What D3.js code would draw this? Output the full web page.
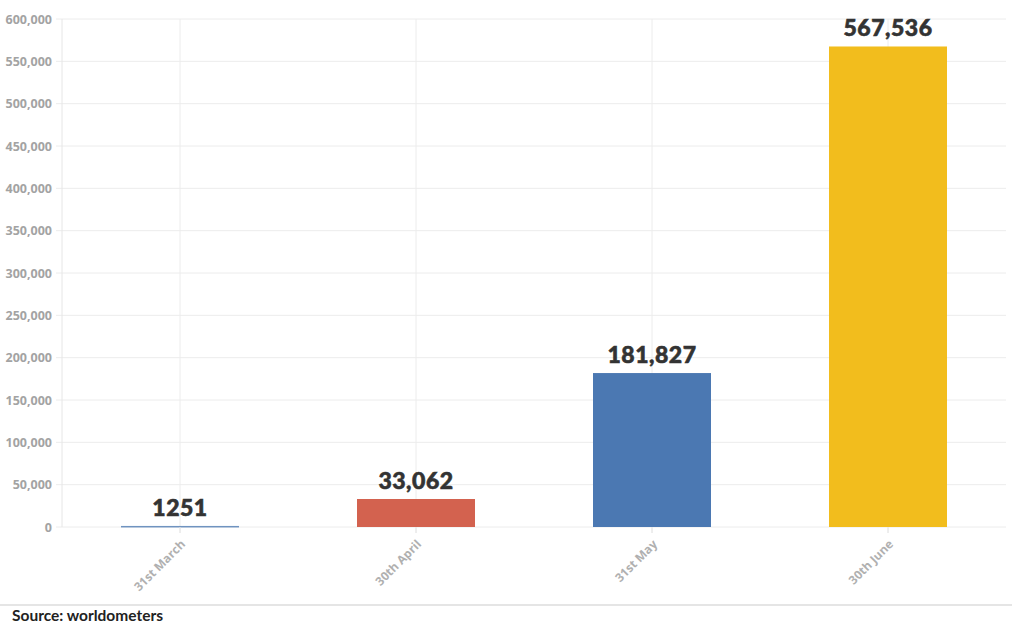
<!DOCTYPE html>
<html><head><meta charset="utf-8">
<script src="https://cdn.jsdelivr.net/npm/d3@7"></script>
<style>
html,body{margin:0;padding:0;background:#fff;}
svg{display:block;font-family:Lato,"Open Sans",sans-serif;}
</style></head>
<body>
<svg id="chart" width="1024" height="630"></svg>
<script>
const categories = ["31st March", "30th April", "31st May", "30th June"];
const values = [1251, 33062, 181827, 567536];
const valueLabels = ["1251", "33,062", "181,827", "567,536"];
const barColors = ["#6f93c0", "#d3624f", "#4b78b2", "#f2bd1d"];
const yTicks = [0, 50000, 100000, 150000, 200000, 250000, 300000, 350000, 400000, 450000, 500000, 550000, 600000];
const source = "Source: worldometers";

const svg = d3.select("#chart");
const mLeft = 62, mRight = 1006, mTop = 19, mBottom = 527;

const x = d3.scaleBand().domain(categories).range([mLeft, mRight]).paddingInner(0.5).paddingOuter(0.25);
const y = d3.scaleLinear().domain([0, 600000]).range([mBottom, mTop]);

// horizontal gridlines
svg.append("g").selectAll("line").data(yTicks).join("line")
  .attr("x1", mLeft - 6).attr("x2", mRight)
  .attr("y1", d => y(d)).attr("y2", d => y(d))
  .attr("stroke", "#ececec").attr("stroke-width", 1);

// vertical gridlines at category centers
svg.append("g").selectAll("line").data(categories).join("line")
  .attr("x1", d => x(d) + x.bandwidth() / 2).attr("x2", d => x(d) + x.bandwidth() / 2)
  .attr("y1", mTop).attr("y2", mBottom + 6)
  .attr("stroke", "#ececec").attr("stroke-width", 1);

// left axis line
svg.append("line").attr("x1", mLeft).attr("x2", mLeft).attr("y1", mTop).attr("y2", mBottom)
  .attr("stroke", "#e6e6e6");

// y axis labels
const yAxis = d3.axisLeft(y).tickValues(yTicks).tickSize(0).tickPadding(10)
  .tickFormat(d => d3.format(",")(d));
const ga = svg.append("g").attr("transform", `translate(${mLeft},0)`).call(yAxis);
ga.select(".domain").remove();
ga.selectAll("text").attr("fill", "#a3a3a3").attr("font-size", 12.5).attr("font-weight", "bold")
  .attr("font-family", "'Open Sans', Lato, sans-serif");

// bars
svg.append("g").selectAll("rect").data(values).join("rect")
  .attr("x", (d, i) => x(categories[i]))
  .attr("width", x.bandwidth())
  .attr("y", d => y(d))
  .attr("height", d => Math.max(1.5, mBottom - y(d)))
  .attr("fill", (d, i) => barColors[i]);

// value labels
svg.append("g").selectAll("text").data(values).join("text")
  .attr("x", (d, i) => x(categories[i]) + x.bandwidth() / 2)
  .attr("y", d => y(d) - 10)
  .attr("text-anchor", "middle")
  .attr("font-size", 23).attr("font-weight", 900).attr("fill", "#333")
  .attr("stroke", "#333").attr("stroke-width", 0.6)
  .attr("letter-spacing", 0.5)
  .text((d, i) => valueLabels[i]);

// x axis
const xAxis = d3.axisBottom(x).tickSize(6).tickPadding(0);
const gx = svg.append("g").attr("transform", `translate(0,${mBottom})`).call(xAxis);
gx.select(".domain").remove();
gx.selectAll("line").attr("stroke", "#e6e6e6");
gx.selectAll("text")
  .attr("fill", "#b0b0b0").attr("font-size", 12).attr("font-weight", "bold")
  .attr("font-family", "'Open Sans', Lato, sans-serif")
  .attr("text-anchor", "end")
  .attr("x", 0).attr("y", 0).attr("dy", 0)
  .attr("transform", "translate(6,18) rotate(-45)");

// separator line
svg.append("line").attr("x1", 0).attr("x2", 1012).attr("y1", 605).attr("y2", 605)
  .attr("stroke", "#dddddd").attr("stroke-width", 1.5);

svg.append("text").attr("x", 12).attr("y", 621)
  .attr("font-size", 15.5).attr("font-weight", "bold").attr("fill", "#222")
  .text(source);
</script>
</body></html>
